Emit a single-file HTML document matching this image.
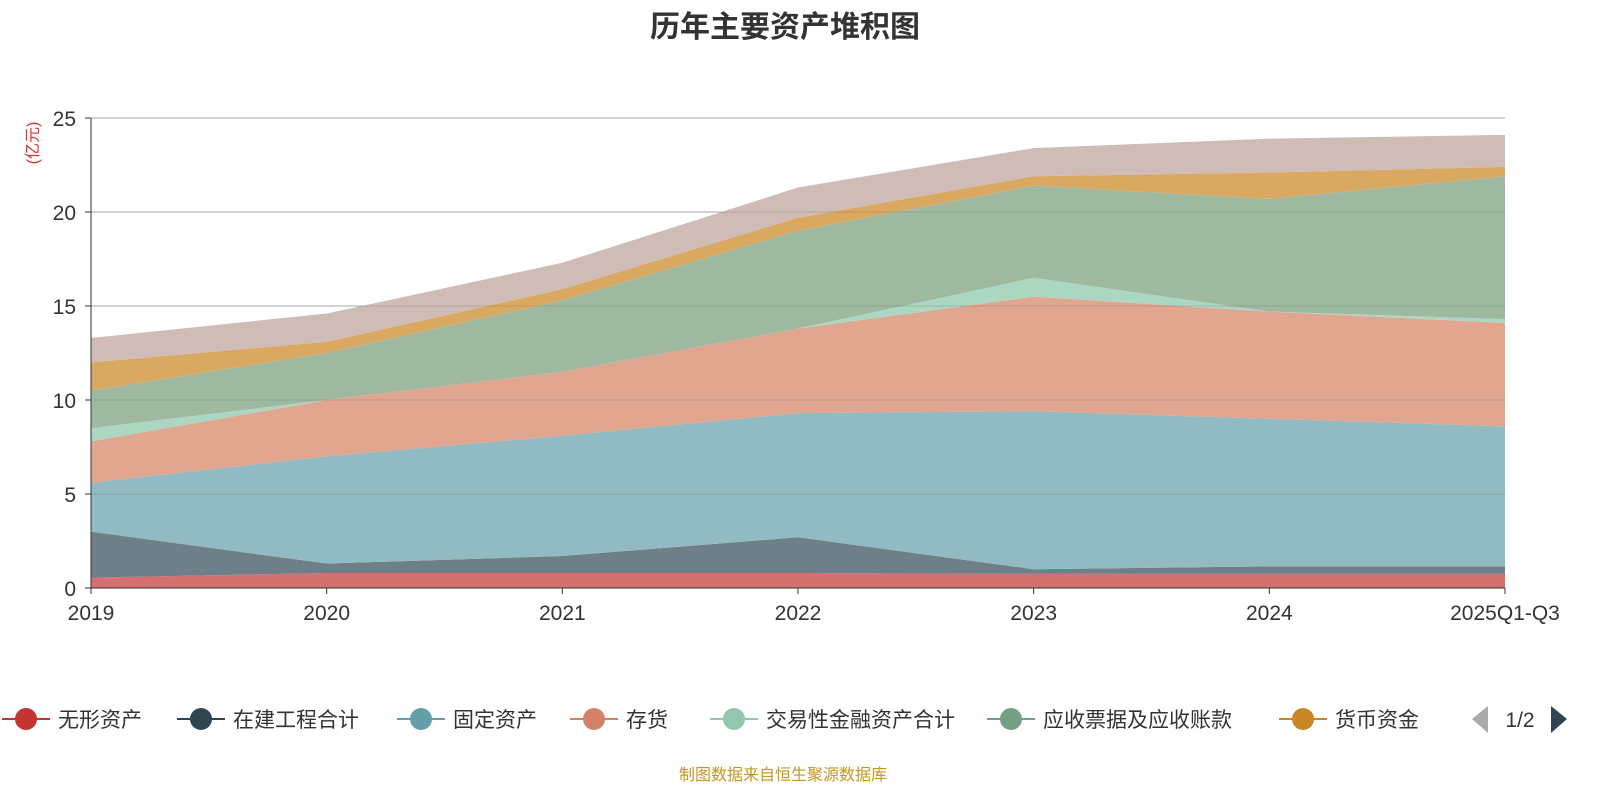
<!DOCTYPE html>
<html><head><meta charset="utf-8">
<style>
body{margin:0;background:#fff;font-family:"Liberation Sans","Noto Sans CJK SC",sans-serif;}
#wrap{position:relative;width:1600px;height:800px;overflow:hidden}
</style></head>
<body>
<div id="wrap">
<svg id="chart" width="1600" height="800" xmlns="http://www.w3.org/2000/svg"></svg>
</div>
<script>
const categories=["2019","2020","2021","2022","2023","2024","2025Q1-Q3"];
const seriesNames=["无形资产","在建工程合计","固定资产","存货","交易性金融资产合计","应收票据及应收账款","货币资金","其他"];
const s0=[0.55,0.8,0.8,0.8,0.75,0.75,0.75];
const s1=[2.45,0.5,0.9,1.9,0.25,0.4,0.4];
const s2=[2.6,5.7,6.4,6.6,8.4,7.85,7.45];
const s3=[2.2,3.0,3.4,4.5,6.1,5.7,5.5];
const s4=[0.7,0.0,0.0,0.0,1.0,0.0,0.2];
const s5=[2.0,2.5,3.8,5.2,4.9,6.0,7.6];
const s6=[1.5,0.6,0.6,0.7,0.5,1.4,0.5];
const s7=[1.3,1.5,1.4,1.6,1.5,1.8,1.7];
const seriesValues=[s0,s1,s2,s3,s4,s5,s6,s7];
const yTicks=[0,5,10,15,20,25];
const fills=["#d4706f","#6e7f8a","#91bac2","#e0a690","#abd6c2","#9fb9a1","#d9a962","#cfbcb6"];
const legendColors=["#c23531","#2f4554","#61a0a8","#d48265","#91c7ae","#749f83","#ca8622"];
const X0=91,X1=1505,Y0=588,Y1=118,YMAX=25;
const xs=i=>X0+(X1-X0)*i/(categories.length-1);
const ys=v=>Y0-(Y0-Y1)*v/YMAX;
const svg=document.getElementById('chart');
const NS="http://www.w3.org/2000/svg";
function mk(tag,attrs,parent){const e=document.createElementNS(NS,tag);for(const k in attrs)e.setAttribute(k,attrs[k]);(parent||svg).appendChild(e);return e;}
let t=mk('text',{x:785,y:37,'text-anchor':'middle','font-size':30,'font-weight':'bold',fill:'#333'});t.textContent="历年主要资产堆积图";


yTicks.forEach(v=>{
  const g=mk('line',{x1:X0,x2:X1,y1:ys(v),y2:ys(v),stroke:v===0?'#333':'#bbb','stroke-width':1});
  
  
  const l=mk('text',{x:76,y:ys(v)+8,'text-anchor':'end','font-size':21,fill:'#333'});l.textContent=v;
  
  
  mk('line',{x1:X0-6,x2:X0,y1:ys(v),y2:ys(v),stroke:'#333'});
});
let cum=categories.map(()=>0);
seriesValues.forEach((arr,si)=>{
  const lower=cum.slice();
  cum=cum.map((c,i)=>c+arr[i]);
  let d='M'+categories.map((_,i)=>xs(i)+','+ys(cum[i])).join(' L');
  for(let i=categories.length-1;i>=0;i--)d+=' L'+xs(i)+','+ys(lower[i]);
  d+='Z';
  const p=mk('path',{d:d,fill:fills[si],stroke:'none'});
  
  
});
yTicks.forEach(v=>{
  if(v===0)return;
  const g=mk('line',{x1:X0,x2:X1,y1:ys(v),y2:ys(v),stroke:'#000','stroke-opacity':0.12,'stroke-width':1});
  
  
});
mk('line',{x1:X0,x2:X0,y1:Y1,y2:Y0,stroke:'#333'});
mk('line',{x1:X0,x2:X1,y1:Y0,y2:Y0,stroke:'#333'});
categories.forEach((c,i)=>{
  mk('line',{x1:xs(i),x2:xs(i),y1:Y0,y2:Y0+6,stroke:'#333'});
  const l=mk('text',{x:xs(i),y:620,'text-anchor':'middle','font-size':21,fill:'#333'});l.textContent=c;
  
  
});
let u=mk('text',{x:38,y:143,'text-anchor':'middle','font-size':16,fill:'#e03030',transform:'rotate(-90 38 143)'});u.textContent="(亿元)";


const legX=[0,175,395,568,708,985,1277];
for(let i=0;i<7;i++){
  const g=mk('g',{});
  
  
  const x=legX[i];
  mk('line',{x1:x+2,x2:x+50,y1:719,y2:719,stroke:legendColors[i],'stroke-width':2},g);
  mk('circle',{cx:x+26,cy:719,r:11,fill:legendColors[i]},g);
  const tx=mk('text',{x:x+58,y:727,'font-size':21,fill:'#333'},g);tx.textContent=seriesNames[i];
}
let a=mk('path',{d:'M1488,706 L1472,719 L1488,733Z',fill:'#aaa'});


let pg=mk('text',{x:1520,y:727,'text-anchor':'middle','font-size':21,fill:'#333'});pg.textContent="1/2";


let b=mk('path',{d:'M1551,706 L1567,719 L1551,733Z',fill:'#2f4554'});


let src=mk('text',{x:783,y:780,'text-anchor':'middle','font-size':16,fill:'#c8961e'});src.textContent="制图数据来自恒生聚源数据库";


</script>
</body></html>
